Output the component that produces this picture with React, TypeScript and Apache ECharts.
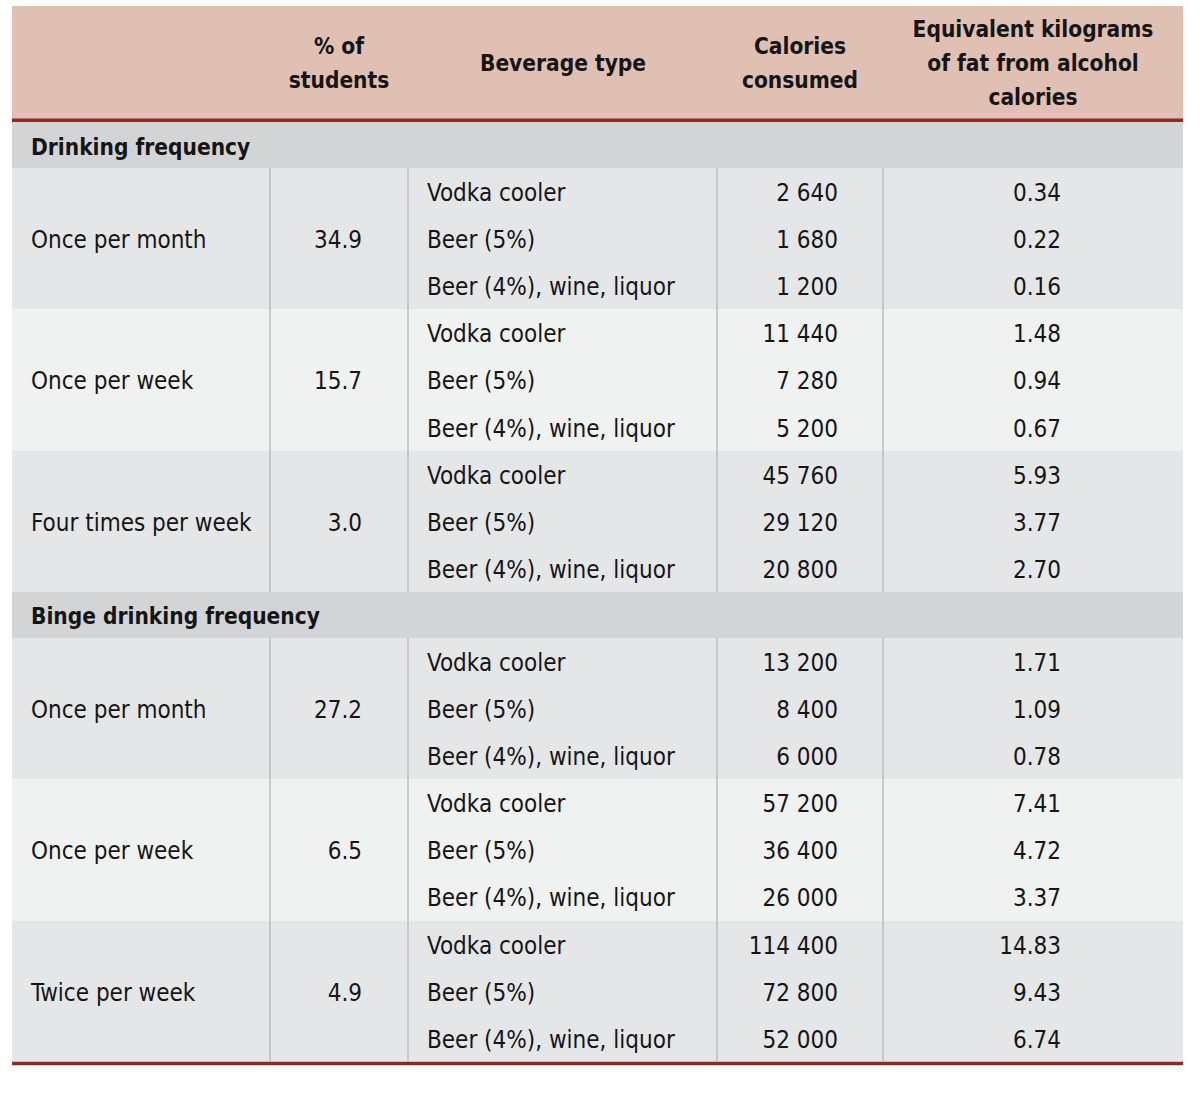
import React, { useEffect, useRef } from "react";
import * as echarts from "echarts";

// ---------- DATA ----------
const columnHeaders = [
  "",
  "% of\nstudents",
  "Beverage type",
  "Calories\nconsumed",
  "Equivalent kilograms\nof fat from alcohol\ncalories",
];
const sectionTitles = ["Drinking frequency", "Binge drinking frequency"];
const beverageTypes = ["Vodka cooler", "Beer (5%)", "Beer (4%), wine, liquor"];

const drinkingFrequencies = ["Once per month", "Once per week", "Four times per week"];
const drinkingPercent = [34.9, 15.7, 3.0];
const drinkingCalories = [
  [2640, 1680, 1200],
  [11440, 7280, 5200],
  [45760, 29120, 20800],
];
const drinkingFatKg = [
  [0.34, 0.22, 0.16],
  [1.48, 0.94, 0.67],
  [5.93, 3.77, 2.7],
];

const bingeFrequencies = ["Once per month", "Once per week", "Twice per week"];
const bingePercent = [27.2, 6.5, 4.9];
const bingeCalories = [
  [13200, 8400, 6000],
  [57200, 36400, 26000],
  [114400, 72800, 52000],
];
const bingeFatKg = [
  [1.71, 1.09, 0.78],
  [7.41, 4.72, 3.37],
  [14.83, 9.43, 6.74],
];

// ---------- LAYOUT / STYLE ----------
const W = 1200;
const H = 1094;
const LEFT = 12;
const RIGHT = 1183;
const HEADER_TOP = 6;
const HEADER_BOTTOM = 122;
const RULE = 3.5;
const SECTION_H = 46;
const ROW_H = 47.1;
const COL_BOUNDS = [LEFT, 270, 408, 717, 883, RIGHT];
const HEADER_CENTERS = [140, 339, 563, 800, 1033];
const FONT = "'Liberation Sans Narrow', 'DejaVu Sans Condensed', 'Open Sans', sans-serif";
const FONT_SIZE = 24;
const BOLD_SIZE = 22.5;
const TEXT_DY = 1.5;
const COLORS = {
  header: "#e0c0b2",
  rule: "#8c2b22",
  section: "#d3d4d6",
  shadeA: "#e5e6e8",
  shadeB: "#f0f1f1",
  grid: "#bdbdbd",
  text: "#151515",
};

const fmtCal = (v: number) => String(v).replace(/\B(?=(\d{3})+(?!\d))/g, " ");

type Rect = { x0: number; y0: number; x1: number; y1: number; color: string };
type Txt = { x: number; y: number; text: string; align: string; bold: boolean; lineHeight?: number };
type VLine = { x: number; y0: number; y1: number };

function buildTable() {
  const rects: Rect[] = [];
  const texts: Txt[] = [];
  const vlines: VLine[] = [];

  rects.push({ x0: LEFT, y0: HEADER_TOP, x1: RIGHT, y1: HEADER_BOTTOM, color: COLORS.header });
  rects.push({ x0: LEFT, y0: HEADER_BOTTOM - RULE, x1: RIGHT, y1: HEADER_BOTTOM, color: COLORS.rule });
  const headerMid = (HEADER_TOP + HEADER_BOTTOM - RULE) / 2 + 0.5;
  columnHeaders.forEach((h, i) => {
    if (!h) return;
    texts.push({ x: HEADER_CENTERS[i], y: headerMid, text: h, align: "center", bold: true, lineHeight: 34 });
  });

  const sections = [
    { title: sectionTitles[0], freq: drinkingFrequencies, pct: drinkingPercent, cal: drinkingCalories, fat: drinkingFatKg },
    { title: sectionTitles[1], freq: bingeFrequencies, pct: bingePercent, cal: bingeCalories, fat: bingeFatKg },
  ];

  let y = HEADER_BOTTOM;
  sections.forEach((s) => {
    rects.push({ x0: LEFT, y0: y, x1: RIGHT, y1: y + SECTION_H, color: COLORS.section });
    texts.push({ x: 31, y: y + SECTION_H / 2 + TEXT_DY, text: s.title, align: "left", bold: true });
    y += SECTION_H;
    const blockTop = y;
    s.freq.forEach((label, g) => {
      const gTop = y;
      const gH = ROW_H * beverageTypes.length;
      rects.push({ x0: LEFT, y0: gTop, x1: RIGHT, y1: gTop + gH, color: g % 2 === 0 ? COLORS.shadeA : COLORS.shadeB });
      texts.push({ x: 31, y: gTop + gH / 2 + TEXT_DY, text: label, align: "left", bold: false });
      texts.push({ x: 362, y: gTop + gH / 2 + TEXT_DY, text: s.pct[g].toFixed(1), align: "right", bold: false });
      beverageTypes.forEach((bev, r) => {
        const cy = gTop + ROW_H * (r + 0.5) + TEXT_DY;
        texts.push({ x: 427, y: cy, text: bev, align: "left", bold: false });
        texts.push({ x: 838, y: cy, text: fmtCal(s.cal[g][r]), align: "right", bold: false });
        texts.push({ x: 1061, y: cy, text: s.fat[g][r].toFixed(2), align: "right", bold: false });
      });
      y += gH;
    });
    for (let c = 1; c < COL_BOUNDS.length - 1; c++) {
      vlines.push({ x: COL_BOUNDS[c], y0: blockTop, y1: y });
    }
  });
  rects.push({ x0: LEFT, y0: y, x1: RIGHT, y1: y + RULE, color: COLORS.rule });
  return { rects, texts, vlines };
}

export default function App() {
  const ref = useRef<HTMLDivElement>(null);
  useEffect(() => {
    if (!ref.current) return;
    const chart = echarts.init(ref.current, undefined, { renderer: "svg" });
    const { rects, texts, vlines } = buildTable();
    chart.setOption({
      animation: false,
      grid: { left: 0, right: 0, top: 0, bottom: 0 },
      xAxis: { type: "value", min: 0, max: W, show: false },
      yAxis: { type: "value", min: 0, max: H, inverse: true, show: false },
      series: [
        {
          type: "custom",
          silent: true,
          clip: false,
          data: rects.map((r) => [r.x0, r.y0, r.x1, r.y1]),
          renderItem: (params: any, api: any) => {
            const p0 = api.coord([api.value(0), api.value(1)]);
            const p1 = api.coord([api.value(2), api.value(3)]);
            return {
              type: "rect",
              shape: { x: p0[0], y: p0[1], width: p1[0] - p0[0], height: p1[1] - p0[1] },
              style: { fill: rects[params.dataIndex].color },
            };
          },
          z: 1,
        },
        {
          type: "custom",
          silent: true,
          clip: false,
          data: vlines.map((l) => [l.x, l.y0, l.y1]),
          renderItem: (params: any, api: any) => {
            const p0 = api.coord([api.value(0), api.value(1)]);
            const p1 = api.coord([api.value(0), api.value(2)]);
            return {
              type: "line",
              shape: { x1: p0[0], y1: p0[1], x2: p1[0], y2: p1[1] },
              style: { stroke: COLORS.grid, lineWidth: 1.5 },
            };
          },
          z: 2,
        },
        {
          type: "custom",
          silent: true,
          clip: false,
          data: texts.map((t) => [t.x, t.y]),
          renderItem: (params: any, api: any) => {
            const t = texts[params.dataIndex];
            const p = api.coord([api.value(0), api.value(1)]);
            return {
              type: "text",
              x: p[0],
              y: p[1],
              style: {
                text: t.text,
                fill: COLORS.text,
                fontFamily: FONT,
                fontSize: t.bold ? BOLD_SIZE : FONT_SIZE,
                fontWeight: t.bold ? "bold" : "normal",
                align: t.align,
                verticalAlign: "middle",
                lineHeight: t.lineHeight || 30,
              },
            };
          },
          z: 3,
        },
      ],
    });
    return () => chart.dispose();
  }, []);
  return (
    <div
      ref={ref}
      style={{ position: "fixed", left: 0, top: 0, width: W, height: H, background: "#ffffff" }}
    />
  );
}
